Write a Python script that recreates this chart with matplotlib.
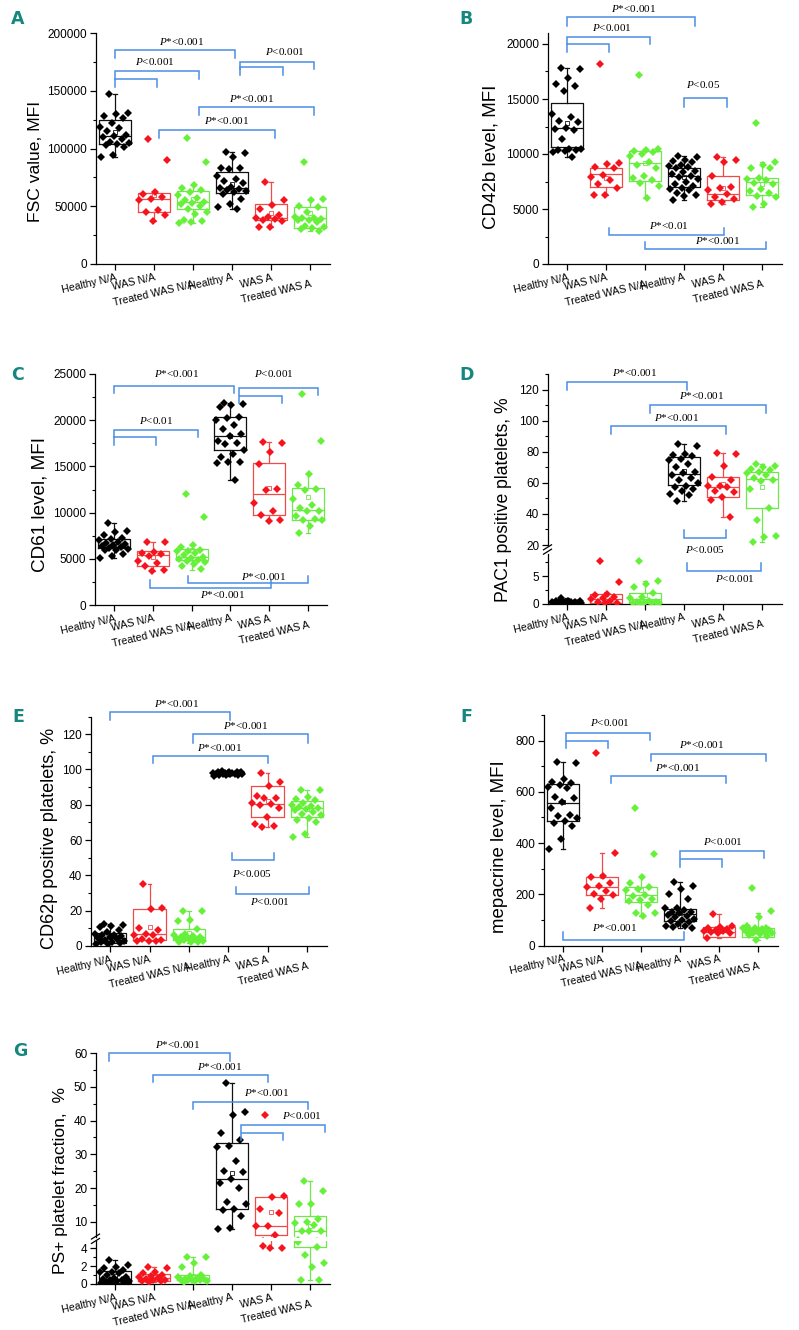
import numpy as np
import matplotlib
matplotlib.use('Agg')
import matplotlib.pyplot as plt
from matplotlib.lines import Line2D
from matplotlib.ticker import MultipleLocator
from matplotlib.transforms import ScaledTranslation

W, H = 799, 1330

GROUPS = ['Healthy N/A', 'WAS N/A', 'Treated WAS N/A', 'Healthy A', 'WAS A', 'Treated WAS A']
POINT_COLORS = ['#000000', '#f5141e', '#66f03a'] * 2
BOX_COLORS = ['#111111', '#f04a4a', '#6ee84a'] * 2
BRACKET_COLOR = '#4a8ee6'
LETTER_COLOR = '#15877f'

# --- A: FSC value, MFI ---
fsc_points = [
    [147000, 131000, 130000, 128000, 126000, 122000, 119000, 118000, 115000, 112000,
     111000, 110000, 108000, 106000, 105000, 104000, 103000, 101000, 94000, 93000],
    [108000, 90000, 62000, 61000, 58000, 56000, 55000, 47000, 45000, 42000, 37000],
    [109000, 88000, 68000, 66000, 64000, 62000, 60000, 57000, 55000, 54000, 53000, 52000,
     50000, 48000, 45000, 43000, 38000, 37000, 36000, 35500],
    [97000, 96000, 93000, 83000, 83000, 82000, 76000, 74000, 72000, 70000, 67000, 66000,
     65000, 64000, 63000, 62000, 61000, 56000, 52000, 49000, 48000],
    [71000, 55000, 51000, 48000, 42000, 41000, 40000, 39000, 38000, 37000, 32000, 32000],
    [88000, 56000, 55000, 50000, 49000, 45000, 41000, 40000, 40000, 39000, 38000, 38000,
     36000, 33000, 32000, 31000, 30000, 29000],
]
fsc_q1 = [103700, 45100, 47400, 61300, 37800, 31500]
fsc_med = [110400, 56400, 53800, 65600, 39600, 39600]
fsc_q3 = [124300, 61800, 63000, 79800, 51700, 49100]
fsc_lo = [93000, 37000, 35500, 48000, 32000, 29000]
fsc_hi = [147000, 62000, 68000, 97000, 71000, 56000]
fsc_mean = [114000, 60000, 56000, 69000, 44500, 44500]
fsc_brackets = [(0, 3.08, 185000, 7000), (0, 2.16, 167300, 6900), (0, 1.07, 160400, 7200),
                (3.2, 5.1, 174800, 6000), (3.2, 4.3, 170200, 6300),
                (2.16, 5.1, 135800, 6600), (1.13, 4.1, 115600, 6600)]
fsc_pvals = [(1.71, 192700, 'P*<0.001'), (1.03, 175400, 'P<0.001'), (4.36, 184100, 'P<0.001'),
             (3.5, 143600, 'P*<0.001'), (2.87, 124300, 'P*<0.001')]

# --- B: CD42b level, MFI ---
cd42_points = [
    [17800, 17700, 16900, 16400, 16200, 15700, 13600, 13400, 13000, 12900, 12400, 12300,
     12200, 11400, 10500, 10500, 10400, 10400, 10300, 10200, 9700],
    [18200, 9200, 9100, 8800, 8700, 8100, 7900, 7600, 7300, 6900, 6300, 6300],
    [17200, 10500, 10400, 10300, 10200, 10000, 9800, 9300, 9000, 8700, 8000, 7800, 7600,
     7400, 7100, 6000],
    [9800, 9700, 9500, 9400, 9300, 9000, 8900, 8800, 8700, 8500, 8400, 8200, 8000, 7900,
     7700, 7500, 7300, 7100, 6900, 6800, 6700, 6500, 6300, 6200, 5800],
    [9700, 9500, 9300, 8000, 7000, 6900, 6700, 6400, 6100, 5900, 5600, 5500],
    [12800, 9300, 9000, 8700, 8700, 7800, 7700, 7600, 7400, 7300, 6800, 6600, 6500, 6200,
     6100, 5500, 5200],
]
cd42_q1 = [10600, 6980, 7530, 6980, 5830, 6280]
cd42_med = [12400, 8190, 9170, 8010, 6340, 7440]
cd42_q3 = [14600, 8770, 10230, 8770, 8010, 7860]
cd42_lo = [9700, 6300, 6000, 5800, 5500, 5200]
cd42_hi = [17800, 9200, 10500, 9800, 9700, 9300]
cd42_mean = [12800, 7800, 9220, 7950, 6890, 7300]
cd42_brackets = [(0, 3.29, 22460, 850), (0, 2.14, 20640, 640), (0, 1.07, 20000, 760),
                 (2.99, 4.09, 15080, 820), (1.07, 4.03, 2640, -610), (2.0, 5.1, 1340, -700)]
cd42_pvals = [(1.71, 23220, 'P*<0.001'), (1.15, 21460, 'P<0.001'), (3.5, 16300, 'P<0.05'),
              (2.6, 3460, 'P*<0.01'), (3.85, 2120, 'P*<0.001')]

# --- C: CD61 level, MFI ---
cd61_points = [
    [8900, 8000, 7900, 7600, 7300, 7100, 7000, 6800, 6700, 6600, 6500, 6400, 6300, 6200,
     6100, 6000, 5900, 5500, 5300, 5100],
    [6800, 6800, 5700, 5600, 5500, 5300, 4800, 4500, 4200, 3800, 3700],
    [12000, 9500, 6500, 6300, 6000, 5800, 5800, 5600, 5400, 5200, 5100, 5000, 4900, 4800,
     4600, 4400, 4200, 3900],
    [21900, 21700, 21600, 21400, 20300, 20200, 20000, 19500, 19000, 18500, 18300, 17700,
     17500, 17400, 16800, 16300, 16000, 15500, 15500, 15400, 13500],
    [17600, 17500, 16600, 15300, 12600, 12400, 11000, 10200, 9700, 9200, 9100],
    [22800, 17800, 14200, 13000, 12600, 12500, 11500, 10800, 10500, 10200, 10200, 9600,
     9300, 9200, 9200, 8500, 7800],
]
cd61_q1 = [6130, 4250, 4870, 16770, 9740, 9200]
cd61_med = [6310, 5410, 5160, 18320, 11980, 10280]
cd61_q3 = [7140, 5880, 6020, 20300, 15400, 12630]
cd61_lo = [5050, 3700, 3800, 13500, 9100, 7800]
cd61_hi = [8900, 6800, 6500, 21900, 17600, 14200]
cd61_mean = [6600, 5200, 5900, 18300, 12700, 11700]
cd61_brackets = [(0, 3.1, 23700, 800), (3.22, 5.26, 23520, 790), (3.22, 4.32, 22620, 760),
                 (0, 2.16, 18940, 790), (0, 1.07, 18150, 830),
                 (1.9, 5.0, 2350, -790), (0.94, 4.04, 1800, -900)]
cd61_pvals = [(1.62, 25100, 'P*<0.001'), (4.13, 25100, 'P<0.001'), (1.08, 19950, 'P<0.01'),
              (3.85, 3060, 'P*<0.001'), (2.8, 1190, 'P*<0.001')]

# --- D: PAC1 positive platelets, % (broken axis) ---
pac1_points = [
    [1.0, 0.6, 0.5, 0.5, 0.4, 0.4, 0.3, 0.3, 0.3, 0.2, 0.2, 0.2, 0.2, 0.1, 0.1, 0.1, 0.1,
     0.1, 0.1, 0.1],
    [7.8, 4.0, 1.8, 1.6, 1.2, 1.0, 0.9, 0.6, 0.4, 0.2, 0.1],
    [7.8, 4.1, 3.6, 3.1, 2.0, 1.2, 1.0, 0.6, 0.4, 0.3, 0.2, 0.1, 0.1, 0.1, 0.1],
    [85, 84, 78.5, 78, 77, 75.5, 75, 72, 70, 67, 66, 65, 63, 62, 60, 58, 57, 56, 55, 53,
     52, 48],
    [79, 78.5, 71, 64, 62, 58, 58, 57, 55, 54, 51, 49, 38],
    [72, 71, 70, 69, 68, 67, 66, 65, 63, 62, 61, 56, 44, 36, 26, 25, 22],
]
pac1_q1 = [0.1, 0.25, 0.1, 58.3, 50.8, 43.7]
pac1_med = [0.2, 0.85, 0.85, 65.6, 57.6, 62.4]
pac1_q3 = [0.4, 1.75, 1.95, 76.6, 63.7, 66.9]
pac1_lo = [0.0, 0.1, 0.05, 48, 38, 22]
pac1_hi = [1.0, 1.8, 4.1, 85, 79, 72]
pac1_mean = [0.25, 1.8, 1.7, 67.3, 59, 57]
pac1_brackets = [(0, 3.08, 124.7, 4.7), (2.13, 5.1, 110.1, 5.1), (1.12, 4.08, 96.3, 4.9),
                 (3.0, 4.08, 24.3, -5.4)]
pac1_pvals = [(1.74, 131.2, 'P*<0.001'), (3.45, 116.1, 'P*<0.001'), (2.81, 101.7, 'P*<0.001'),
              (3.54, 16.8, 'P<0.005')]
pac1_brackets_low = [(3.07, 4.97, 6.0, -1.45)]
pac1_pvals_low = [(4.3, 4.6, 'P<0.001')]

# --- E: CD62p positive platelets, % ---
cd62_points = [
    [12.5, 12.0, 11.5, 10.5, 9.0, 8.0, 7.0, 6.5, 6.0, 5.5, 5.0, 4.5, 4.0, 3.5, 3.0, 2.5,
     2.0, 1.5, 1.0, 1.0],
    [35, 21.5, 21, 10, 9, 7, 6.5, 6, 4, 3.5, 3, 3, 3],
    [20, 20, 15, 14, 9.5, 7, 6, 5.5, 5, 5, 4.5, 4, 4, 3.5, 3, 2.5, 2, 2],
    [99, 98.8, 98.6, 98.5, 98.3, 98.2, 98.1, 98, 98, 97.9, 97.8, 97.7, 97.6, 97.5, 97.5,
     97.3, 97, 97, 96.8, 96.5],
    [97.8, 93, 90.8, 85, 84, 83.7, 81, 80.5, 80, 78.4, 73.3, 68.9, 68, 67.6],
    [88.5, 88.3, 84.6, 83, 82.5, 81, 80, 79.5, 79, 78, 77.5, 77, 76, 75, 74, 72.5, 71.5,
     70, 63.3, 61.9],
]
cd62_q1 = [1.9, 3.4, 3.4, 97.3, 73.3, 73.3]
cd62_med = [4.7, 6.6, 5.3, 97.9, 80.5, 78.0]
cd62_q3 = [7.5, 20.8, 9.4, 98.4, 90.8, 82.3]
cd62_lo = [1.0, 2.8, 1.9, 96.5, 67.5, 61.9]
cd62_hi = [12.5, 35, 20, 99, 97.8, 88.5]
cd62_mean = [6.0, 10.9, 7.5, 97.9, 82.2, 77.5]
cd62_brackets = [(0, 3.05, 132.7, 4.7), (2.1, 5.04, 120, 4.8), (1.08, 4.02, 107.6, 4.1),
                 (3.1, 4.16, 48.7, -3.8), (3.2, 5.06, 29.3, -4.0)]
cd62_pvals = [(1.7, 137.5, 'P*<0.001'), (3.43, 124.8, 'P*<0.001'), (2.79, 112.4, 'P*<0.001'),
              (3.6, 41.2, 'P<0.005'), (4.07, 25.1, 'P<0.001')]

# --- F: mepacrine level, MFI ---
mep_points = [
    [717, 712, 649, 640, 633, 625, 620, 614, 579, 575, 560, 536, 510, 505, 497, 486, 480,
     467, 416, 376],
    [753, 360, 272, 267, 243, 232, 228, 213, 200, 198, 181, 148],
    [536, 357, 267, 243, 230, 220, 215, 198, 195, 180, 178, 175, 160, 126, 125, 116],
    [246, 232, 220, 200, 181, 146, 145, 140, 130, 129, 125, 120, 115, 110, 105, 100, 95,
     90, 85, 75, 75, 74, 70],
    [122, 78, 74, 70, 65, 60, 58, 55, 52, 50, 48, 31],
    [226, 133, 113, 75, 70, 68, 68, 65, 62, 60, 58, 55, 52, 50, 48, 45, 42, 38, 22],
]
mep_q1 = [486, 196, 168, 96, 35, 35]
mep_med = [555, 228, 198, 122, 51, 51]
mep_q3 = [629, 267, 230, 142, 74, 68]
mep_lo = [376, 148, 116, 70, 31, 22]
mep_hi = [717, 360, 267, 246, 122, 125]
mep_mean = [561, 270, 217, 127, 58, 63]
mep_brackets = [(0.08, 2.23, 830, 29), (0.08, 1.16, 800, 29), (2.25, 5.2, 749, 30),
                (1.22, 4.18, 663, 29), (3.0, 5.15, 369, 29), (3.0, 4.08, 337, 30),
                (0.01, 3.1, 23, -29)]
mep_pvals = [(1.19, 869, 'P<0.001'), (3.56, 784, 'P*<0.001'), (2.94, 695, 'P*<0.001'),
             (4.1, 405, 'P<0.001'), (1.33, 69, 'P*<0.001')]

# --- G: PS+ platelet fraction, % (broken axis) ---
ps_points = [
    [2.7, 2.1, 1.9, 1.8, 1.6, 1.4, 1.3, 1.2, 1.0, 0.8, 0.7, 0.6, 0.5, 0.4, 0.3, 0.3, 0.2,
     0.2, 0.2, 0.1],
    [1.9, 1.8, 1.4, 1.2, 1.0, 0.9, 0.8, 0.7, 0.6, 0.5, 0.4, 0.3, 0.3, 0.2],
    [3.0, 3.0, 2.4, 1.9, 1.0, 0.9, 0.8, 0.7, 0.6, 0.6, 0.5, 0.5, 0.4, 0.4, 0.3, 0.3, 0.2],
    [51, 42.5, 41.5, 36.2, 34.2, 32.6, 32.2, 28, 25.1, 24.8, 22.6, 21.6, 20.1, 16, 15.2,
     13.9, 13.4, 11.7, 8.1, 8.0],
    [41.5, 17.6, 17.3, 13.9, 12.5, 8.9, 8.8, 6.2, 4.3, 4.0, 4.0],
    [22.1, 19, 15.4, 15.4, 10.8, 9.8, 9.6, 9.0, 7.4, 7.3, 7.2, 4.75, 4.2, 3.26, 2.4, 1.95,
     0.45, 0.4],
]
ps_q1 = [0.15, 0.37, 0.45, 13.7, 6.2, 4.2]
ps_med = [0.45, 0.71, 0.71, 22.6, 8.8, 7.2]
ps_q3 = [1.5, 1.09, 1.0, 33.4, 17.3, 11.8]
ps_lo = [0.1, 0.2, 0.2, 8.0, 4.0, 0.4]
ps_hi = [2.7, 1.9, 3.0, 51, 17.6, 22.1]
ps_mean = [0.9, 0.8, 0.9, 24.6, 13.0, 8.8]
ps_brackets = [(-0.15, 2.95, 60, 2.3), (0.98, 3.93, 53.5, 2.1), (1.99, 4.96, 45.6, 2.2),
               (3.22, 5.38, 38.8, 2.2), (3.22, 4.32, 36.3, 2.2)]
ps_pvals = [(1.6, 62.6, 'P*<0.001'), (2.69, 56.0, 'P*<0.001'), (3.89, 48.3, 'P*<0.001'),
            (4.79, 41.4, 'P<0.001')]


def px_rect(l, t, r, b):
    """Pixel box (left, top, right, bottom) -> figure fraction rect."""
    return [l / W, 1 - b / H, (r - l) / W, (b - t) / H]


def fig_xy(x, y):
    return x / W, 1 - y / H


def draw_groups(ax, pts, q1, med, q3, lo, hi, mean):
    for g in range(len(GROUPS)):
        c = BOX_COLORS[g]
        stats = [dict(q1=q1[g], med=med[g], q3=q3[g], whislo=lo[g], whishi=hi[g],
                      mean=mean[g], fliers=[])]
        line = dict(color=c, lw=0.9)
        ax.bxp(stats, positions=[g], widths=0.82, showmeans=True, showfliers=False,
               manage_ticks=False, capwidths=0.1,
               boxprops=line, medianprops=line, whiskerprops=line, capprops=line,
               meanprops=dict(marker='s', mfc='none', mec=c, ms=2.6, mew=0.6))
        n = len(pts[g])
        # spread points across the box width (fixed golden-ratio spacing)
        off = ((np.arange(n) * 0.618034 + 0.3) % 1 - 0.5) * 0.78
        ax.plot(g + off, pts[g], 'D', color=POINT_COLORS[g], ms=4.0, mew=0, zorder=4)


def draw_brackets(ax, brackets, pvals):
    for x1, x2, y, leg in brackets:
        ax.plot([x1, x1, x2, x2], [y - leg, y, y, y - leg], color=BRACKET_COLOR,
                lw=1.1, clip_on=False, zorder=5, solid_joinstyle='miter')
    for tx, ty, s in pvals:
        ax.text(tx, ty, '$P$' + s[1:], ha='center', va='center', fontsize=8,
                family='Liberation Serif', clip_on=False, zorder=6)


def style_axis(fig, ax, ylim, yticks, minor, bottom=True):
    ax.set_xlim(-0.5, 5.5)
    ax.set_ylim(*ylim)
    ax.set_yticks(yticks)
    ax.yaxis.set_minor_locator(MultipleLocator(minor))
    for side in ('top', 'right'):
        ax.spines[side].set_visible(False)
    for side in ('left', 'bottom'):
        ax.spines[side].set_linewidth(0.9)
    ax.tick_params(axis='y', which='major', direction='out', length=4, width=0.9,
                   labelsize=8.5, pad=2)
    ax.tick_params(axis='y', which='minor', direction='out', length=2.2, width=0.8)
    ax.set_xticks(range(len(GROUPS)))
    if bottom:
        labels = ax.set_xticklabels(GROUPS, rotation=13, ha='right', va='top',
                                    rotation_mode='anchor', fontsize=7.6)
        ax.tick_params(axis='x', direction='out', length=4, width=0.9, pad=2)
        # the "Treated ..." labels sit a little lower than the others
        shift = ScaledTranslation(0, -5 / 72, fig.dpi_scale_trans)
        for i in (2, 5):
            labels[i].set_transform(labels[i].get_transform() + shift)
    else:
        ax.spines['bottom'].set_visible(False)
        ax.tick_params(axis='x', bottom=False, labelbottom=False)


def break_marks(fig, x, y):
    for dy in (-2.2, 2.2):
        x0, y0 = fig_xy(x - 4, y + dy + 2.5)
        x1, y1 = fig_xy(x + 4, y + dy - 2.5)
        fig.add_artist(Line2D([x0, x1], [y0, y1], color='black', lw=0.9))


def main():
    plt.rcParams['font.family'] = ['Liberation Sans', 'DejaVu Sans']
    plt.rcParams['mathtext.fontset'] = 'custom'
    plt.rcParams['mathtext.it'] = 'Liberation Serif:italic'
    plt.rcParams['mathtext.rm'] = 'Liberation Serif'

    fig = plt.figure(figsize=(W / 100, H / 100), dpi=100)
    fig.patch.set_facecolor('white')

    panels = [
        dict(letter='A', letter_xy=(18, 19), label='FSC value, MFI', label_xy=(36, 161),
             label_size=12.6,
             data=(fsc_points, fsc_q1, fsc_med, fsc_q3, fsc_lo, fsc_hi, fsc_mean),
             axes=[dict(rect=(95.5, 33, 329.5, 264), ylim=(0, 200000),
                        yticks=range(0, 200001, 50000), minor=25000,
                        brackets=fsc_brackets, pvals=fsc_pvals)]),
        dict(letter='B', letter_xy=(466, 19), label='CD42b level, MFI', label_xy=(491, 157),
             label_size=13.5,
             data=(cd42_points, cd42_q1, cd42_med, cd42_q3, cd42_lo, cd42_hi, cd42_mean),
             axes=[dict(rect=(547.5, 33, 781.5, 264), ylim=(0, 21000),
                        yticks=range(0, 20001, 5000), minor=2500,
                        brackets=cd42_brackets, pvals=cd42_pvals)]),
        dict(letter='C', letter_xy=(18, 375), label='CD61 level, MFI', label_xy=(40, 504),
             label_size=13.6,
             data=(cd61_points, cd61_q1, cd61_med, cd61_q3, cd61_lo, cd61_hi, cd61_mean),
             axes=[dict(rect=(94.6, 374, 327.4, 605), ylim=(0, 25000),
                        yticks=range(0, 25001, 5000), minor=2500,
                        brackets=cd61_brackets, pvals=cd61_pvals)]),
        dict(letter='D', letter_xy=(467, 375), label='PAC1 positive platelets, %',
             label_xy=(504, 500), label_size=12.7,
             data=(pac1_points, pac1_q1, pac1_med, pac1_q3, pac1_lo, pac1_hi, pac1_mean),
             axes=[dict(rect=(547.5, 374, 781.5, 545), ylim=(20, 130),
                        yticks=range(20, 121, 20), minor=10, bottom=False,
                        brackets=pac1_brackets, pvals=pac1_pvals),
                   dict(rect=(547.5, 554, 781.5, 604), ylim=(0, 9),
                        yticks=[0, 5], minor=2.5,
                        brackets=pac1_brackets_low, pvals=pac1_pvals_low)]),
        dict(letter='E', letter_xy=(18, 717), label='CD62p positive platelets, %',
             label_xy=(50, 838), label_size=13.1,
             data=(cd62_points, cd62_q1, cd62_med, cd62_q3, cd62_lo, cd62_hi, cd62_mean),
             axes=[dict(rect=(90.5, 716.5, 326.5, 946), ylim=(0, 130),
                        yticks=range(0, 121, 20), minor=10,
                        brackets=cd62_brackets, pvals=cd62_pvals)]),
        dict(letter='F', letter_xy=(466, 717), label='mepacrine level, MFI',
             label_xy=(500, 847), label_size=13.4,
             data=(mep_points, mep_q1, mep_med, mep_q3, mep_lo, mep_hi, mep_mean),
             axes=[dict(rect=(543.5, 715, 777.5, 945.5), ylim=(0, 900),
                        yticks=range(0, 801, 200), minor=100,
                        brackets=mep_brackets, pvals=mep_pvals)]),
        dict(letter='G', letter_xy=(20, 1051), label='PS+ platelet fraction,  %',
             label_xy=(61, 1181), label_size=12.6,
             data=(ps_points, ps_q1, ps_med, ps_q3, ps_lo, ps_hi, ps_mean),
             axes=[dict(rect=(95.5, 1053, 329.5, 1237), ylim=(5.5, 60),
                        yticks=range(10, 61, 10), minor=5, bottom=False,
                        brackets=ps_brackets, pvals=ps_pvals),
                   dict(rect=(95.5, 1240.5, 329.5, 1284), ylim=(0, 4.9),
                        yticks=[0, 2, 4], minor=1, brackets=[], pvals=[])]),
    ]

    for p in panels:
        for a in p['axes']:
            ax = fig.add_axes(px_rect(*a['rect']))
            draw_groups(ax, *p['data'])
            style_axis(fig, ax, a['ylim'], a['yticks'], a['minor'], a.get('bottom', True))
            draw_brackets(ax, a['brackets'], a['pvals'])
        if len(p['axes']) == 2:
            l, t_up, r, b_up = p['axes'][0]['rect']
            t_low = p['axes'][1]['rect'][1]
            break_marks(fig, l, (b_up + t_low) / 2)
        lx, ly = fig_xy(*p['label_xy'])
        fig.text(lx, ly, p['label'], rotation=90, ha='center', va='center',
                 fontsize=p['label_size'])
        tx, ty = fig_xy(*p['letter_xy'])
        fig.text(tx, ty, p['letter'], ha='center', va='center', fontsize=12.5,
                 fontweight='bold', color=LETTER_COLOR,
                 family=['Liberation Sans Narrow', 'DejaVu Sans'])

    fig.savefig('out.png', dpi=100, facecolor='white')


if __name__ == "__main__":
    main()
